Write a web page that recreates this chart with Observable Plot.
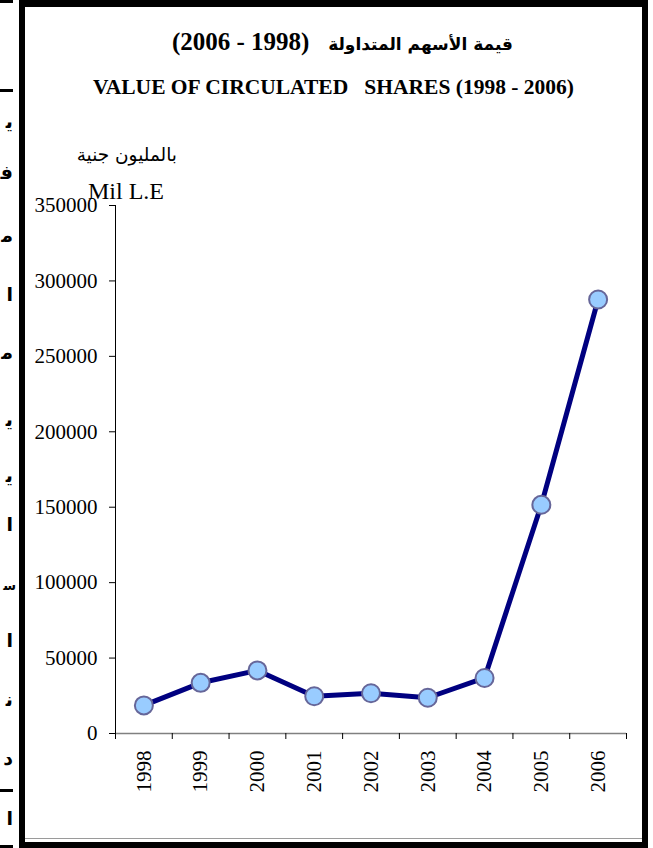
<!DOCTYPE html>
<html>
<head>
<meta charset="utf-8">
<script src="https://cdn.jsdelivr.net/npm/d3@7"></script>
<script src="https://cdn.jsdelivr.net/npm/@observablehq/plot@0.6"></script>
<style>
  html, body { margin: 0; padding: 0; background: #fff; }
  #page { position: relative; width: 653px; height: 848px; overflow: hidden; background: #fff; }
  #page > * { position: absolute; }
  .frame { left: 19px; top: -1px; width: 617px; height: 835px; border: 6px solid #000; border-top-width: 8px; border-bottom-width: 6px; }
  .inner-line { left: 25px; top: 838px; width: 617px; height: 1px; background: #9a9a9a; }
  .pline { left: 0; width: 13px; height: 3px; background: #000; }
  .frag { right: 640px; font-family: "DejaVu Sans", sans-serif; font-weight: bold; font-size: 19px; white-space: pre; line-height: 1; }
  .frag.small { right: 637px; font-size: 13px; }
  .t-ar { right: 140px; top: 27px; direction: rtl; white-space: pre; font-weight: bold; line-height: 1.2; }
  .t-ar .ar { font-family: "DejaVu Sans", sans-serif; font-size: 17px; }
  .t-ar .num { font-family: "Liberation Serif", serif; font-size: 25px; }
  .t-en { left: 0; width: 667px; text-align: center; top: 75px; font-family: "Liberation Serif", serif; font-weight: bold; font-size: 21.5px; white-space: pre; line-height: 1.2; }
  .u-ar { right: 476px; top: 144px; font-family: "DejaVu Sans", sans-serif; font-size: 18.5px; direction: rtl; white-space: pre; line-height: 1.2; }
  .u-en { left: 88px; top: 179px; font-family: "Liberation Serif", serif; font-size: 24px; white-space: pre; line-height: 1; }
  #chart { left: 0; top: 0; }
</style>
</head>
<body>
<div id="page"></div>
<script>
// ---- data ----
const years = [1998, 1999, 2000, 2001, 2002, 2003, 2004, 2005, 2006];
const values = [18600, 33600, 41800, 24700, 26700, 23700, 36800, 151600, 287700];
const yTicks = [0, 50000, 100000, 150000, 200000, 250000, 300000, 350000];
const titleArabic = "قيمة الأسهم المتداولة";
const titlePeriod = "   (1998 - 2006)";
const titleEnglish = "VALUE OF CIRCULATED   SHARES (1998 - 2006)";
const unitArabic = "بالمليون جنية";
const unitEnglish = "Mil L.E";

const data = years.map((year, i) => ({year, value: values[i]}));
const bandEdges = years.map(y => y - 0.5).concat([years[years.length - 1] + 0.5]);

const page = document.getElementById("page");

// page decoration: initial letters of the neighbouring page column (presentation forms), page rules
const frags = [["\uFEF3",112],["\uFED3",163],["\uFEE3",226],["\u0627",285],["\uFEE3",343],["\uFEF3",410],["\uFEF3",466],["\u0627",515],["\uFEB3",579,true],["\u0627",631],["\uFEE7",690],["\u062F",749],["\u0627",809]];
for (const [t, y, small] of frags) {
  const d = document.createElement("div");
  d.className = small ? "frag small" : "frag"; d.style.top = y + "px"; d.textContent = t;
  page.appendChild(d);
}
for (const y of [0, 89, 789, 845]) {
  const d = document.createElement("div");
  d.className = "pline"; d.style.top = y + "px";
  page.appendChild(d);
}

const chart = Plot.plot({
  width: 653,
  height: 848,
  marginLeft: 115,
  marginRight: 27,
  marginTop: 205,
  marginBottom: 115,
  x: {type: "linear", domain: [bandEdges[0], bandEdges[bandEdges.length - 1]], axis: null},
  y: {type: "linear", domain: [0, 350000], axis: null},
  style: {background: "transparent", fontFamily: "'Liberation Serif', serif", fontSize: "21px", color: "#000", overflow: "visible"},
  marks: [
    Plot.ruleY([0], {stroke: "#808080", strokeWidth: 1.5}),
    Plot.ruleX([bandEdges[0]], {stroke: "#000", strokeWidth: 1}),
    Plot.axisY({ticks: yTicks, tickSize: 6, tickPadding: 12, tickFormat: d => String(d), label: null, fontSize: 21, stroke: "#000"}),
    Plot.axisX({ticks: bandEdges, tickSize: 6, tickFormat: () => "", label: null, stroke: "#000"}),
    Plot.axisX({ticks: years, tickSize: 0, tickPadding: 17, tickRotate: -90, tickFormat: d => String(d), label: null, fontSize: 21}),
    Plot.line(data, {x: "year", y: "value", stroke: "#000080", strokeWidth: 5}),
    Plot.dot(data, {x: "year", y: "value", r: 9, fill: "#99CCFF", stroke: "#666699", strokeWidth: 2})
  ]
});
chart.id = "chart";
page.appendChild(chart);

// frame and texts
const frame = document.createElement("div"); frame.className = "frame"; page.appendChild(frame);
const il = document.createElement("div"); il.className = "inner-line"; page.appendChild(il);

const tAr = document.createElement("div"); tAr.className = "t-ar";
const s1 = document.createElement("span"); s1.className = "ar"; s1.textContent = titleArabic;
const s2 = document.createElement("span"); s2.className = "num"; s2.textContent = titlePeriod;
tAr.appendChild(s1); tAr.appendChild(s2); page.appendChild(tAr);

const tEn = document.createElement("div"); tEn.className = "t-en"; tEn.textContent = titleEnglish; page.appendChild(tEn);
const uAr = document.createElement("div"); uAr.className = "u-ar"; uAr.textContent = unitArabic; page.appendChild(uAr);
const uEn = document.createElement("div"); uEn.className = "u-en"; uEn.textContent = unitEnglish; page.appendChild(uEn);
</script>
</body>
</html>
